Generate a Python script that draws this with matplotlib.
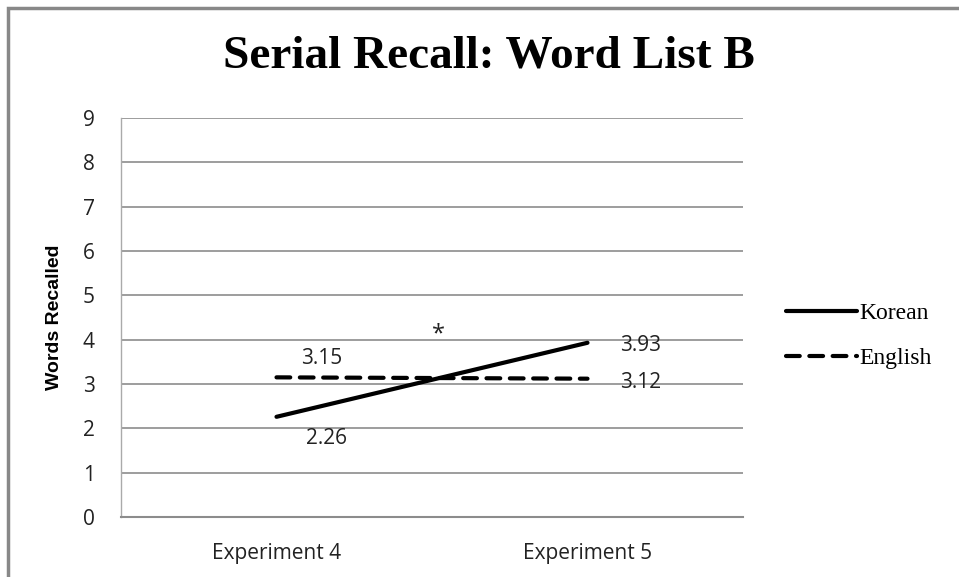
import matplotlib.pyplot as plt
from matplotlib.patches import Rectangle

# Data
experiments = ['Experiment 4', 'Experiment 5']
korean = [2.26, 3.93]
english = [3.15, 3.12]
korean_labels = ['2.26', '3.93']
english_labels = ['3.15', '3.12']
yticks = list(range(0, 10))

fig = plt.figure(figsize=(9.59, 5.77), dpi=100)

# grey frame round the whole chart
fig.patches.append(Rectangle((8 / 959, -0.01), 1.0, 1.0 - 8 / 577 + 0.01,
                             transform=fig.transFigure, fill=False,
                             edgecolor='#888888', linewidth=2.5))

ax = fig.add_axes([121 / 959, 1 - 517 / 577, 622 / 959, 399 / 577])

x = range(len(experiments))
ax.plot(x, korean, color='black', linewidth=3, solid_capstyle='round', label='Korean')
ax.plot(x, english, color='black', linewidth=3, dashes=(3.3, 2.3),
        dash_capstyle='round', label='English')

ax.set_xlim(-0.5, 1.5)
ax.set_ylim(0, 9)
ax.set_yticks(yticks)
ax.set_xticks(list(x))
ax.set_xticklabels(experiments)
ax.tick_params(length=0, labelsize=15)
for lab in ax.get_xticklabels() + ax.get_yticklabels():
    lab.set_family('Open Sans')
    lab.set_color('#222222')
ax.tick_params(axis='y', pad=19)
ax.tick_params(axis='x', pad=19)
ax.grid(axis='y', color='#8c8c8c', linewidth=1.2)
ax.set_axisbelow(True)
for side in ['top', 'right']:
    ax.spines[side].set_visible(False)
ax.spines['left'].set_color('#aaaaaa')
ax.spines['left'].set_linewidth(1)
ax.spines['bottom'].set_color('#8c8c8c')
ax.spines['bottom'].set_linewidth(1.5)

ax.set_ylabel('Words Recalled', fontsize=14, fontweight='bold',
              family='Liberation Sans', labelpad=14)

# value labels
lab_font = dict(fontsize=15, family='Open Sans', color='#222222')
ax.annotate(english_labels[0], (0, english[0]), xytext=(45, 19),
            textcoords='offset pixels', ha='center', va='center', **lab_font)
ax.annotate(korean_labels[0], (0, korean[0]), xytext=(50, -22),
            textcoords='offset pixels', ha='center', va='center', **lab_font)
ax.annotate(korean_labels[1], (1, korean[1]), xytext=(53, -3),
            textcoords='offset pixels', ha='center', va='center', **lab_font)
ax.annotate(english_labels[1], (1, english[1]), xytext=(53, -4),
            textcoords='offset pixels', ha='center', va='center', **lab_font)
ax.text(0.52, 4.12, '*', ha='center', va='center', fontsize=17,
        family='Open Sans', color='#222222')

leg = fig.legend(loc='center left', bbox_to_anchor=(765 / 959, 1 - 336 / 577),
                 frameon=False, handlelength=3.0, handletextpad=0.1,
                 labelspacing=1.0, prop={'family': 'Liberation Serif', 'size': 17})

fig.text(489 / 959, 1 - 57 / 577, 'Serial Recall: Word List B', ha='center',
         va='center', fontsize=34, fontweight='bold', family='Liberation Serif')

fig.savefig('out.png', dpi=100)
